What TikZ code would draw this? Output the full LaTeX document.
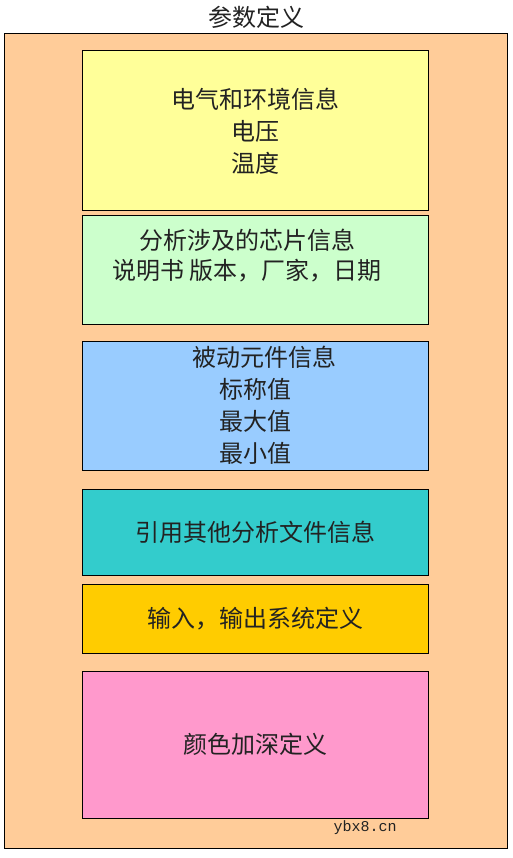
\documentclass[tikz,border=0pt]{standalone}
\usepackage{fontspec}
\newfontfamily\cjk{Noto Sans CJK SC}
\newfontfamily\mono{Liberation Mono}
\definecolor{peach}{HTML}{FFCC99}
\definecolor{yel}{HTML}{FFFF99}
\definecolor{grn}{HTML}{CCFFCC}
\definecolor{blu}{HTML}{99CCFF}
\definecolor{teal2}{HTML}{33CCCC}
\definecolor{gold}{HTML}{FFCC00}
\definecolor{pink2}{HTML}{FF99CC}
\definecolor{ink}{HTML}{222222}
\begin{document}
\begin{tikzpicture}[x=1pt,y=-1pt,
  box/.style={draw=black, line width=1pt, inner sep=0pt, minimum width=346pt},
  txt/.style={font=\cjk\fontsize{24}{32}\selectfont, align=center, text=ink}]
\useasboundingbox (0,0) rectangle (513,858);
\fill[white] (0,0) rectangle (513,858);
\node[txt] (title) at (256,17) {参数定义};
\node[draw=black, line width=1pt, fill=peach, inner sep=0pt, minimum width=503pt, minimum height=814pt] (outer) at (255.5,441) {};
\node[box, txt, fill=yel, minimum height=160pt] (b1) at (255,131) {电气和环境信息\\电压\\温度};
\node[box, fill=grn, minimum height=108pt] (b2) at (255,270) {};
\node[txt, font=\cjk\fontsize{24}{30}\selectfont] (t2) at (247,256) {分析涉及的芯片信息\\说明书 版本，厂家，日期};
\node[box, txt, fill=blu, minimum height=129pt] (b3) at (255,405.5) {\hspace*{18pt}被动元件信息\\标称值\\最大值\\最小值};
\node[box, txt, fill=teal2, minimum height=86pt] (b4) at (255,532) {引用其他分析文件信息};
\node[box, txt, fill=gold, minimum height=69pt] (b5) at (255,618.5) {输入，输出系统定义};
\node[box, txt, fill=pink2, minimum height=147pt] (b6) at (255,744.5) {颜色加深定义};
\node[font=\mono\fontsize{15}{18}\selectfont, text=ink] (wm) at (365,828) {ybx8.cn};
\end{tikzpicture}
\end{document}
